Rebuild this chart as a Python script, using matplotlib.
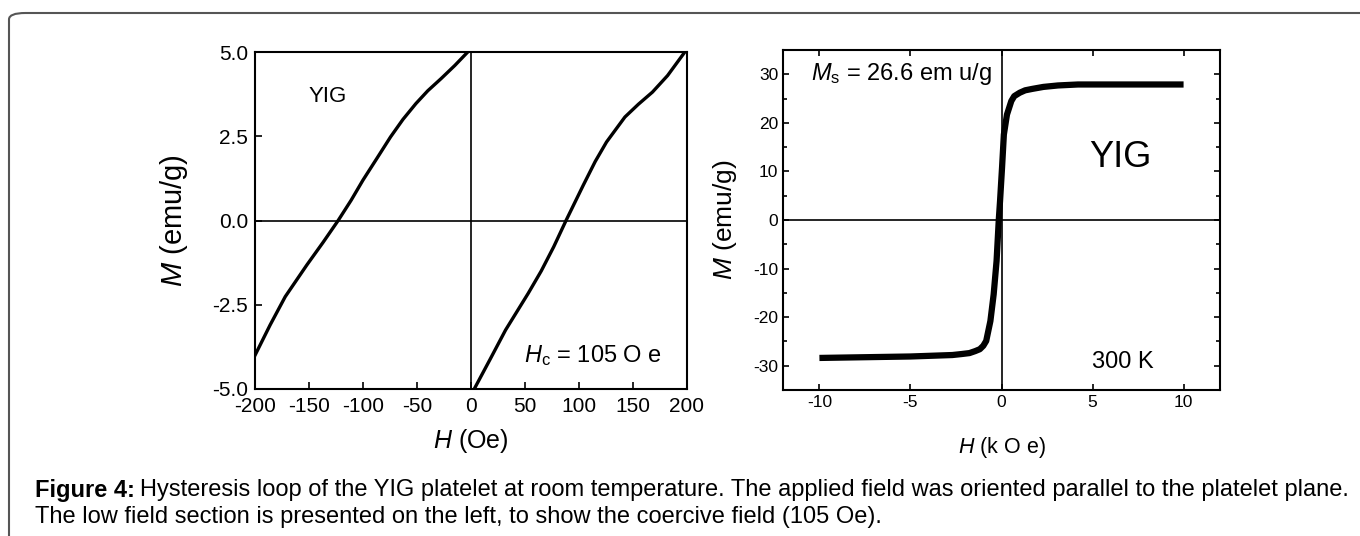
import numpy as np
import matplotlib.pyplot as plt
from matplotlib.patches import FancyBboxPatch
from matplotlib.ticker import MultipleLocator

plt.rcParams['font.family'] = ['Liberation Sans', 'DejaVu Sans']
plt.rcParams['mathtext.fontset'] = 'custom'
plt.rcParams['mathtext.it'] = 'Liberation Sans:italic'
plt.rcParams['mathtext.rm'] = 'Liberation Sans'
plt.rcParams['axes.unicode_minus'] = False

# Low field section (Oe, emu/g), two branches of the loop
h_desc = [-200, -186, -172, -152, -137, -123, -111, -100, -87, -74.5, -63, -51, -40, -27.7, -15, -3]
m_desc = [-4.0, -3.1, -2.26, -1.32, -0.65, 0.0, 0.6, 1.2, 1.85, 2.48, 3.0, 3.47, 3.85, 4.21, 4.6, 5.0]
h_asc = [3, 18, 32, 53, 65, 76.6, 88, 104, 115, 125.5, 142.5, 155, 168, 182, 198]
m_asc = [-5.0, -4.1, -3.25, -2.16, -1.5, -0.78, 0.0, 1.05, 1.75, 2.33, 3.07, 3.45, 3.81, 4.3, 5.0]

# Full loop (kOe, emu/g)
h_full = [-10, -5, -2.7, -2.2, -1.76, -1.45, -1.19, -1.0, -0.84, -0.61, -0.43, -0.27, -0.15,
          -0.08, 0.03, 0.13, 0.3, 0.54, 0.7, 1.0, 1.3, 1.7, 2.3, 3.1, 4.2, 10]
m_full = [-28.4, -28.1, -27.8, -27.6, -27.4, -27.0, -26.6, -25.9, -24.9, -20.8, -15.3, -8.4, 0.0,
          3.9, 10.8, 17.6, 21.7, 24.5, 25.5, 26.2, 26.7, 27.0, 27.4, 27.7, 27.9, 27.9]

fig = plt.figure(figsize=(13.6, 5.36), dpi=100)

# outer frame with rounded corner
frame = FancyBboxPatch((9 / 1360, -0.2), 1.2, (536 - 13) / 536 + 0.2,
                       boxstyle='round,pad=0,rounding_size=0.012',
                       transform=fig.transFigure, fill=False,
                       edgecolor='#555555', lw=1.5, clip_on=False)
fig.patches.append(frame)

# left panel
ax1 = fig.add_axes([255 / 1360, 1 - 389 / 536, 432 / 1360, 337 / 536])
ax1.plot(h_desc, m_desc, color='black', lw=2.4)
ax1.plot(h_asc, m_asc, color='black', lw=2.4)
ax1.axhline(0, color='black', lw=1.2)
ax1.axvline(0, color='black', lw=1.2)
ax1.set_xlim(-200, 200)
ax1.set_ylim(-5, 5)
ax1.set_xticks(np.arange(-200, 201, 50))
ax1.set_yticks([-5, -2.5, 0, 2.5, 5])
ax1.set_yticklabels(['-5.0', '-2.5', '0.0', '2.5', '5.0'])
ax1.tick_params(direction='in', labelsize=15, length=5, width=1.2)
ax1.tick_params(axis='x', pad=6)
ax1.tick_params(axis='y', pad=5)
for s in ax1.spines.values():
    s.set_linewidth(1.5)
ax1.set_xlabel('$\\mathit{H}$ (Oe)', fontsize=18, labelpad=8)
ax1.set_ylabel('$\\mathit{M}$ (emu/g)', fontsize=21, labelpad=16)
ax1.text(-133, 3.67, 'YIG', fontsize=16, ha='center', va='center')
ax1.text(113, -4.0, '$\\mathit{H}_{\\rm c}$ = 105 O e', fontsize=17,
         ha='center', va='center')

# right panel
ax2 = fig.add_axes([783 / 1360, 1 - 390 / 536, 437 / 1360, 340 / 536])
ax2.plot(h_full, m_full, color='black', lw=4.5, solid_capstyle='butt')
ax2.axhline(0, color='black', lw=1.2)
ax2.axvline(0, color='black', lw=1.2)
ax2.set_xlim(-12, 12)
ax2.set_ylim(-35, 35)
ax2.set_xticks([-10, -5, 0, 5, 10])
ax2.set_yticks([-30, -20, -10, 0, 10, 20, 30])
ax2.yaxis.set_minor_locator(MultipleLocator(5))
ax2.tick_params(direction='in', labelsize=12.5, length=4, width=1.2,
                top=True, right=True)
ax2.tick_params(which='minor', direction='in', length=3, width=1.2,
                left=True, right=True)
for s in ax2.spines.values():
    s.set_linewidth(1.5)
ax2.set_xlabel('$\\mathit{H}$ (k O e)', fontsize=15.5, labelpad=18)
ax2.set_ylabel('$\\mathit{M}$ (emu/g)', fontsize=19, labelpad=10)
ax2.text(-5.5, 30, '$\\mathit{M}_{\\rm s}$ = 26.6 em u/g', fontsize=17,
         ha='center', va='center')
ax2.text(6.55, 12.8, 'YIG', fontsize=26, ha='center', va='center')
ax2.text(6.65, -29.3, '300 K', fontsize=17, ha='center', va='center')

# caption: bold lead-in followed by normal text
cap_y1 = 1 - 490 / 536
cap_y2 = 1 - 517 / 536
lead = fig.text(35 / 1360, cap_y1, 'Figure 4:', fontsize=17,
                fontweight='bold', va='center', ha='left')
fig.canvas.draw()
bb = lead.get_window_extent().transformed(fig.transFigure.inverted())
fig.text(bb.x1 + 5 / 1360, cap_y1,
         'Hysteresis loop of the YIG platelet at room temperature. '
         'The applied field was oriented parallel to the platelet plane.',
         fontsize=17, va='center', ha='left')
fig.text(35 / 1360, cap_y2,
         'The low field section is presented on the left, '
         'to show the coercive field (105 Oe).',
         fontsize=17, va='center', ha='left')

fig.savefig('out.png', dpi=100)
